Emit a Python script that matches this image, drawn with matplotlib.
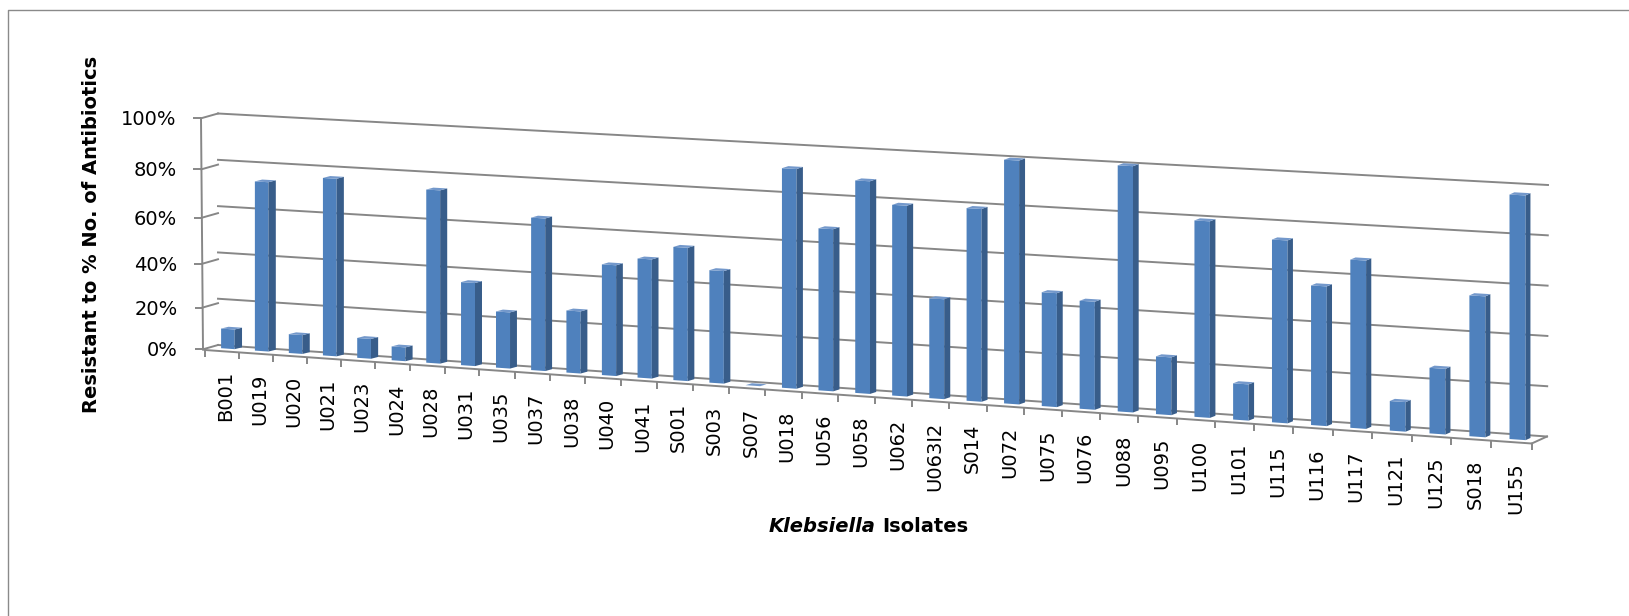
import numpy as np
import matplotlib
matplotlib.use("Agg")
import matplotlib.pyplot as plt
from matplotlib.transforms import Transform, Affine2D
from matplotlib.path import Path
from matplotlib.patches import Polygon

# data (% of antibiotics each isolate resists)
isolates = ['B001', 'U019', 'U020', 'U021', 'U023', 'U024', 'U028', 'U031', 'U035',
            'U037', 'U038', 'U040', 'U041', 'S001', 'S003', 'S007', 'U018', 'U056',
            'U058', 'U062', 'U063I2', 'S014', 'U072', 'U075', 'U076', 'U088', 'U095',
            'U100', 'U101', 'U115', 'U116', 'U117', 'U121', 'U125', 'S018', 'U155']
resistance = [8.5, 73.0, 8.1, 76.2, 8.5, 5.9, 73.8, 35.3, 23.8,
              64.5, 26.2, 46.6, 50.0, 55.8, 47.0, 0.0, 91.3, 67.2,
              87.9, 78.7, 41.1, 79.1, 99.8, 46.5, 44.0, 100.0, 23.4,
              79.4, 14.6, 73.5, 56.0, 67.3, 11.8, 26.1, 55.9, 96.8]
y_ticks = [0, 20, 40, 60, 80, 100]
y_tick_labels = ['0%', '20%', '40%', '60%', '80%', '100%']

front_col = '#4F81BD'
side_col = '#385D8A'
top_col = '#7398CB'
grid_col = '#878787'


class Homography(Transform):
    """Projective map used to fake Excel's 3-D perspective."""
    input_dims = output_dims = 2
    is_separable = False

    def __init__(self, src, dst):
        super().__init__()
        A, b = [], []
        for (u, v), (x, y) in zip(src, dst):
            A.append([u, v, 1, 0, 0, 0, -u * x, -v * x]); b.append(x)
            A.append([0, 0, 0, u, v, 1, -u * y, -v * y]); b.append(y)
        h = np.linalg.solve(np.array(A, float), np.array(b, float))
        self.H = np.append(h, 1.0).reshape(3, 3)

    def transform_non_affine(self, values):
        values = np.asarray(values, float).reshape(-1, 2)
        p = np.column_stack([values, np.ones(len(values))]) @ self.H.T
        return p[:, :2] / p[:, 2:3]

    def transform_path_non_affine(self, path):
        return Path(self.transform_non_affine(path.vertices), path.codes)


fig = plt.figure(figsize=(16.29, 6.16), dpi=100)
ax = fig.add_axes([0, 0, 1, 1])
ax.set_autoscale_on(False)
ax.set_xlim(0, 1629)
ax.set_ylim(616, 0)
ax.axis('off')

n = len(isolates)
corners = [(0, 0), (1, 0), (0, 100), (1, 100)]
H_wall = Homography(corners, [(218, 345), (1547, 436.5), (218, 113.5), (1548, 185)])
H_side = Homography(corners, [(203, 349.3), (218, 345), (201, 118.3), (218, 113.5)])
H_front = Homography([(0, 0), (n, 0), (0, 100), (n, 100)],
                     [(205, 350), (1531.7, 443.5), (205, 119), (1531.7, 190.5)])
T_wall = H_wall + ax.transData
T_side = H_side + ax.transData
T_front = H_front + ax.transData
T_bar = H_front + Affine2D().translate(6, -2.5) + ax.transData

# chart-area border
ax.plot([8, 8, 1629], [616, 10, 10], color='#8A8A8A', lw=1.0)

# walls and gridlines
for v in y_ticks:
    ax.plot([0, 1], [v, v], transform=T_wall, color=grid_col, lw=1.4, zorder=1)
    ax.plot([0, 1], [v, v], transform=T_side, color=grid_col, lw=1.4, zorder=1)
ax.plot([0, 0], [0, 100], transform=T_side, color=grid_col, lw=1.4, zorder=1)

# floor
ax.plot([0, n], [0, 0], transform=T_front, color=grid_col, lw=1.4, zorder=1)
to_data = ax.transData.inverted()
for a, b in [(T_front.transform((0, 0)), T_side.transform((0, 0))),
             (T_front.transform((n, 0)), T_wall.transform((1, 0)))]:
    pa, pb = to_data.transform(a), to_data.transform(b)
    ax.plot([pa[0], pb[0]], [pa[1], pb[1]], color=grid_col, lw=1.4, zorder=1)

# tick marks
ax.plot(np.zeros(len(y_ticks)), y_ticks, ls='none', marker=Path([(-1, 0), (0, 0)]),
        ms=11.5, mec=grid_col, mew=1.4, transform=T_side)
ax.plot(np.arange(n + 1), np.zeros(n + 1), ls='none', marker=Path([(0, 0), (0, -1)]),
        ms=10, mec=grid_col, mew=1.4, transform=T_front)

# 3-D columns
x = np.arange(n) + 0.5
w = 0.4
dv = 1.0
ax.bar(x, resistance, width=w, color=front_col, transform=T_bar, zorder=3)
for i, (c, v) in enumerate(zip(x, resistance)):
    du = 0.22 - 0.1 * i / (n - 1)
    side = [(c + w / 2, 0), (c + w / 2, v), (c + w / 2 + du, v + dv), (c + w / 2 + du, dv)]
    top = [(c - w / 2, v), (c + w / 2, v), (c + w / 2 + du, v + dv), (c - w / 2 + du, v + dv)]
    ax.add_patch(Polygon(side, closed=True, fc=side_col, ec='none', transform=T_bar, zorder=3))
    ax.add_patch(Polygon(top, closed=True, fc=top_col, ec='none', transform=T_bar, zorder=3))

# tick labels
ylab_T = H_side + Affine2D().translate(-25, 1.5) + ax.transData
for v, lab in zip(y_ticks, y_tick_labels):
    ax.text(0, v, lab, transform=ylab_T, ha='right', va='center', fontsize=14)
xlab_T = H_front + Affine2D().translate(4, 20) + ax.transData
for c, lab in zip(x, isolates):
    ax.text(c, 0, lab, transform=xlab_T, rotation=90, ha='center', va='top', fontsize=14)

# axis titles
ax.text(92, 234, 'Resistant to % No. of Antibiotics', rotation=90, ha='center',
        va='center', fontsize=14, fontweight='bold')
ax.text(875, 531.5, 'Klebsiella', ha='right', va='baseline', fontsize=14,
        fontweight='bold', fontstyle='italic')
ax.text(882.5, 531.5, 'Isolates', ha='left', va='baseline', fontsize=14,
        fontweight='bold')

fig.savefig('out.png', dpi=100, facecolor='white')
